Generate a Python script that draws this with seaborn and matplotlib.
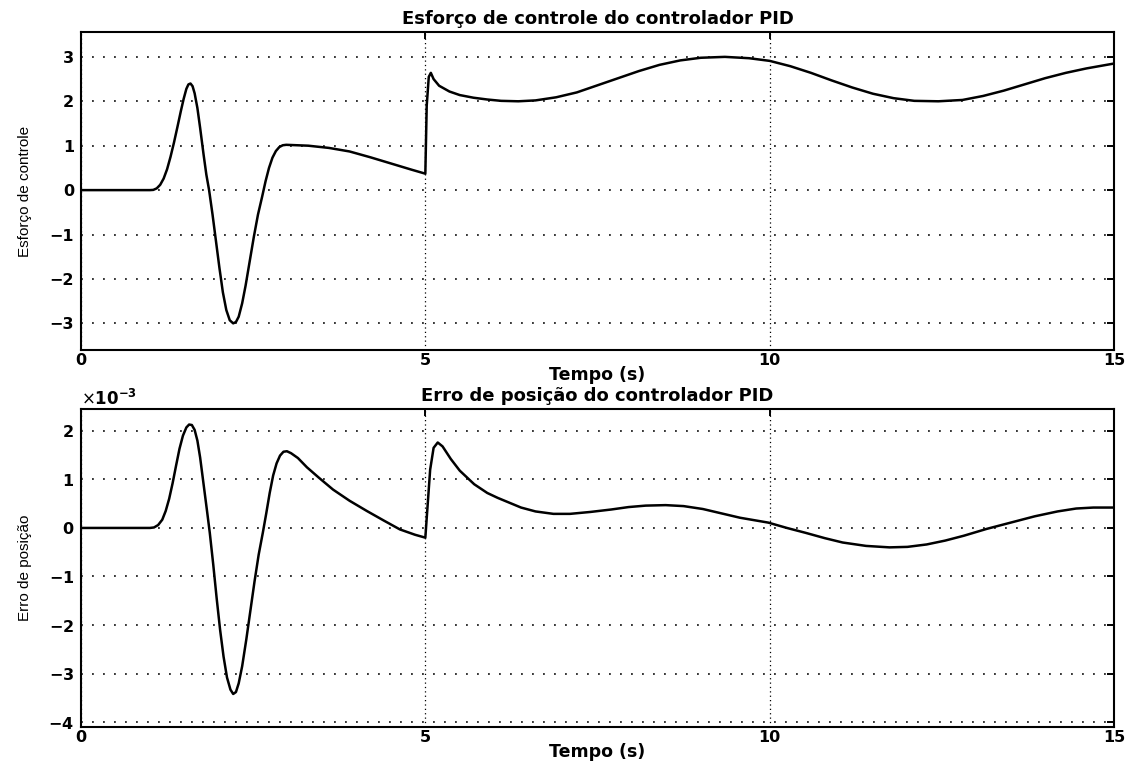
import numpy as np
import pandas as pd
import matplotlib
matplotlib.use("Agg")
import matplotlib.pyplot as plt
import seaborn as sns

# ---------------- data ----------------
t_u = [0.0, 0.5, 1.0, 1.05, 1.10, 1.15, 1.20, 1.25, 1.30, 1.35, 1.40, 1.45,
       1.49, 1.53, 1.56, 1.59, 1.62, 1.65, 1.69, 1.73, 1.78, 1.82, 1.86, 1.91,
       1.96, 2.01, 2.06, 2.11, 2.16, 2.21, 2.25, 2.29, 2.34, 2.39, 2.45, 2.51,
       2.57, 2.63, 2.68, 2.73, 2.78, 2.83, 2.88, 2.93, 2.98, 3.3, 3.6, 3.9,
       4.2, 4.5, 4.8, 5.0, 5.02, 5.05, 5.08, 5.12, 5.2, 5.35, 5.5, 5.7, 5.9,
       6.1, 6.35, 6.6, 6.9, 7.2, 7.5, 7.8, 8.1, 8.4, 8.7, 9.0, 9.35, 9.7, 10.0,
       10.3, 10.6, 10.9, 11.2, 11.5, 11.8, 12.1, 12.45, 12.8, 13.1, 13.4, 13.7,
       14.0, 14.3, 14.6, 15.0]
u_pid = [0.0, 0.0, 0.0, 0.005, 0.04, 0.12, 0.26, 0.47, 0.75, 1.07, 1.42, 1.78,
         2.05, 2.28, 2.38, 2.40, 2.34, 2.18, 1.85, 1.40, 0.80, 0.35, 0.0, -0.55,
         -1.15, -1.75, -2.3, -2.7, -2.93, -3.0, -2.97, -2.85, -2.55, -2.15, -1.6,
         -1.05, -0.55, -0.15, 0.2, 0.5, 0.73, 0.88, 0.97, 1.01, 1.02, 1.0, 0.95,
         0.87, 0.74, 0.6, 0.46, 0.37, 1.9, 2.55, 2.64, 2.5, 2.35, 2.22, 2.14,
         2.08, 2.04, 2.01, 2.0, 2.02, 2.09, 2.2, 2.36, 2.52, 2.68, 2.82, 2.92,
         2.98, 3.0, 2.97, 2.91, 2.79, 2.64, 2.47, 2.31, 2.17, 2.07, 2.01, 2.0,
         2.03, 2.12, 2.24, 2.38, 2.52, 2.64, 2.74, 2.85]

t_e = [0.0, 0.5, 1.0, 1.06, 1.12, 1.18, 1.23, 1.28, 1.33, 1.38, 1.43, 1.48,
       1.53, 1.57, 1.61, 1.65, 1.69, 1.73, 1.78, 1.83, 1.87, 1.92, 1.97, 2.02,
       2.07, 2.12, 2.17, 2.21, 2.25, 2.29, 2.34, 2.40, 2.46, 2.52, 2.58, 2.64,
       2.69, 2.74, 2.79, 2.84, 2.89, 2.94, 2.99, 3.05, 3.15, 3.28, 3.45, 3.66,
       3.9, 4.15, 4.4, 4.63, 4.85, 5.0, 5.03, 5.07, 5.12, 5.18, 5.25, 5.37, 5.5,
       5.71, 5.9, 6.05, 6.39, 6.6, 6.86, 7.1, 7.4, 7.7, 7.95, 8.2, 8.49, 8.75,
       9.03, 9.3, 9.57, 9.98, 10.25, 10.52, 10.8, 11.06, 11.4, 11.74, 12.0,
       12.28, 12.55, 12.82, 13.15, 13.5, 13.85, 14.18, 14.45, 14.7, 15.0]
e_pid_milli = [0.0, 0.0, 0.0, 0.01, 0.06, 0.17, 0.35, 0.6, 0.92, 1.28, 1.63,
               1.9, 2.07, 2.13, 2.12, 2.02, 1.8, 1.45, 0.9, 0.35, -0.1, -0.75,
               -1.45, -2.1, -2.65, -3.08, -3.33, -3.42, -3.38, -3.2, -2.85, -2.3,
               -1.7, -1.1, -0.55, -0.1, 0.3, 0.72, 1.08, 1.33, 1.49, 1.57, 1.58,
               1.54, 1.44, 1.25, 1.04, 0.79, 0.56, 0.35, 0.15, -0.03, -0.14,
               -0.2, 0.4, 1.2, 1.65, 1.76, 1.68, 1.42, 1.18, 0.9, 0.72, 0.62,
               0.42, 0.34, 0.29, 0.29, 0.33, 0.38, 0.43, 0.46, 0.47, 0.45, 0.39,
               0.3, 0.21, 0.11, 0.0, -0.1, -0.21, -0.3, -0.37, -0.4, -0.39, -0.34,
               -0.26, -0.16, -0.02, 0.11, 0.24, 0.34, 0.4, 0.42, 0.42]
e_pid = [v * 1e-3 for v in e_pid_milli]

x_ticks = [0, 5, 10, 15]
u_ticks = [-3, -2, -1, 0, 1, 2, 3]
e_ticks = [-4e-3, -3e-3, -2e-3, -1e-3, 0, 1e-3, 2e-3]

title_u = "Esforço de controle do controlador PID"
title_e = "Erro de posição do controlador PID"
xlabel = "Tempo (s)"
ylabel_u = "Esforço de controle"
ylabel_e = "Erro de posição"

# ---------------- style ----------------
sns.set_style("white")
plt.rcParams["font.family"] = ["DejaVu Sans"]
plt.rcParams["axes.edgecolor"] = "black"
plt.rcParams["text.color"] = "black"
plt.rcParams["axes.labelcolor"] = "black"
plt.rcParams["xtick.color"] = "black"
plt.rcParams["ytick.color"] = "black"

fig = plt.figure(figsize=(11.35, 7.62), dpi=100)
L, R = 81 / 1135, 1114 / 1135
ax1 = fig.add_axes([L, 1 - 350 / 762, R - L, (350 - 32) / 762])
ax2 = fig.add_axes([L, 1 - 727 / 762, R - L, (727 - 409) / 762])

df_u = pd.DataFrame({"t": t_u, "u": u_pid})
df_e = pd.DataFrame({"t": t_e, "e": e_pid})

sns.lineplot(data=df_u, x="t", y="u", ax=ax1, color="black", lw=1.8,
             sort=False, estimator=None)
sns.lineplot(data=df_e, x="t", y="e", ax=ax2, color="black", lw=1.8,
             sort=False, estimator=None)

label_font = dict(family=["Liberation Sans Narrow", "Liberation Sans"], size=11,
                  color="black")


def style_axes(ax, yticks, ylim, title, ylab, ylab_x):
    ax.set_xlim(0, 15)
    ax.set_ylim(*ylim)
    ax.set_xticks(x_ticks)
    ax.set_yticks(yticks)
    for s in ax.spines.values():
        s.set_visible(True)
        s.set_linewidth(1.5)
        s.set_color("black")
    ax.tick_params(direction="in", length=5, width=1.4, top=True, right=True,
                   colors="black")
    ax.tick_params(axis="x", pad=2)
    ax.tick_params(axis="y", pad=5)
    for lab in ax.get_xticklabels() + ax.get_yticklabels():
        lab.set_fontweight("bold")
        lab.set_fontsize(11.5)
    ax.xaxis.grid(True, color="black", linestyle=(0, (1, 2.5)), lw=0.9)
    ax.yaxis.grid(True, color="black", linestyle=(0, (1.2, 6)), lw=1.1)
    ax.set_axisbelow(True)
    ax.set_title(title, fontsize=13, fontweight="bold", pad=6)
    ax.set_xlabel(xlabel, fontsize=12.5, fontweight="bold", labelpad=-1)
    ax.set_ylabel(ylab, **label_font)
    ax.yaxis.set_label_coords(ylab_x, 0.5)


style_axes(ax1, u_ticks, (-3.6, 3.56), title_u, ylabel_u, -0.047)
ax1.set_yticklabels([str(v).replace("-", "\u2212") for v in u_ticks])
for lab in ax1.get_yticklabels():
    lab.set_fontweight("bold")
    lab.set_fontsize(11.5)

ax2.ticklabel_format(axis="y", style="sci", scilimits=(0, 0), useMathText=True)
style_axes(ax2, e_ticks, (-4.1e-3, 2.45e-3), title_e, ylabel_e, -0.047)
ax2.yaxis.get_offset_text().set_fontsize(12)
ax2.yaxis.get_offset_text().set_fontweight("bold")

fig.savefig("out.png", dpi=100)
